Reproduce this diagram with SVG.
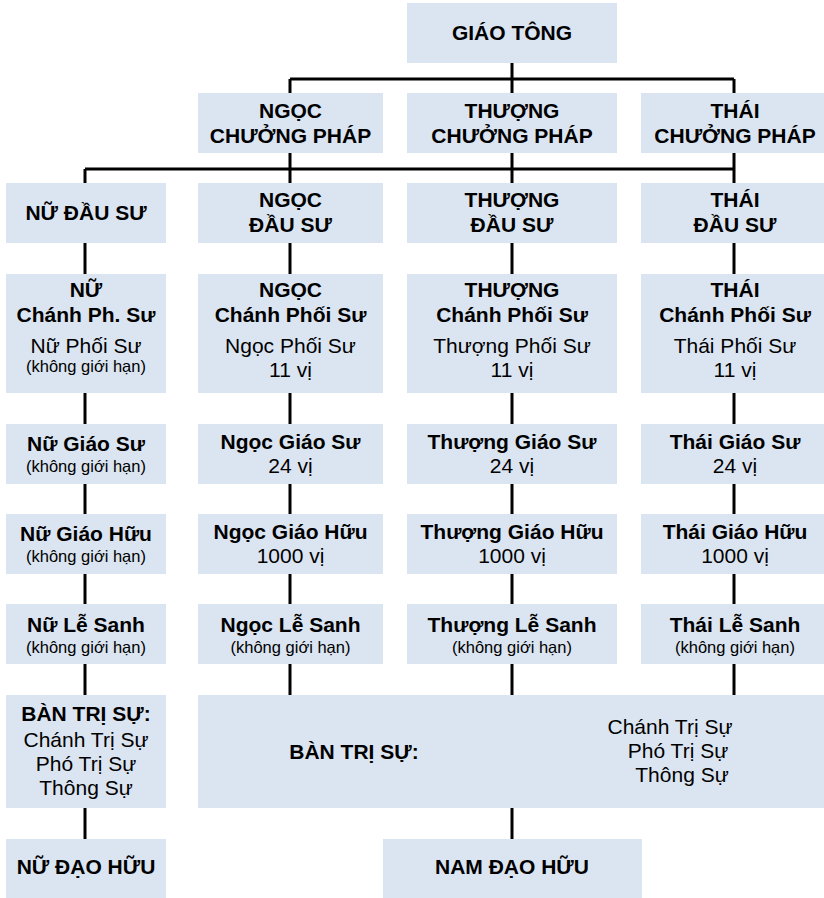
<svg xmlns="http://www.w3.org/2000/svg" width="824" height="898" viewBox="0 0 824 898">
<style>
.box{fill:#DBE5F1;}
.b{font-family:"Liberation Sans",Arial,sans-serif;font-weight:bold;font-size:21px;fill:#000;text-anchor:middle;}
.r{font-family:"Liberation Sans",Arial,sans-serif;font-size:21px;fill:#000;text-anchor:middle;}
.s{font-family:"Liberation Sans",Arial,sans-serif;font-size:16.5px;fill:#000;text-anchor:middle;}
.c{stroke:#000;stroke-width:3;fill:none;}
</style>
<rect width="824" height="898" fill="#fff"/>
<g id="connectors" class="c">
<path d="M512 63V93M290 79H734M290 79V93M734 79V93"/>
<path d="M85 169H734M85 169V183M290 153V183M512 153V183M734 153V183"/>
<path d="M85 243V274M290 243V274M512 243V274M734 243V274"/>
<path d="M85 393V424M290 393V424M512 393V424M734 393V424"/>
<path d="M85 484V514M290 484V514M512 484V514M734 484V514"/>
<path d="M85 574V604M290 574V604M512 574V604M734 574V604"/>
<path d="M85 664V695M290 664V695M512 664V695M734 664V695"/>
<path d="M85 808V839M512 808V839"/>
</g>
<g id="giao-tong"><rect class="box" x="407" y="3" width="210" height="60"/><text class="b" x="512" y="40">GIÁO TÔNG</text></g>
<g id="ngoc-chuong-phap"><rect class="box" x="198" y="93" width="185" height="60"/><text class="b" x="290.5" y="118">NGỌC</text><text class="b" x="290.5" y="143">CHƯỞNG PHÁP</text></g>
<g id="thuong-chuong-phap"><rect class="box" x="407" y="93" width="210" height="60"/><text class="b" x="512" y="118">THƯỢNG</text><text class="b" x="512" y="143">CHƯỞNG PHÁP</text></g>
<g id="thai-chuong-phap"><rect class="box" x="641" y="93" width="185" height="60"/><text class="b" x="735" y="118">THÁI</text><text class="b" x="735" y="143">CHƯỞNG PHÁP</text></g>

<g id="nu-dau-su"><rect class="box" x="6" y="183" width="160" height="60"/><text class="b" x="86" y="220">NỮ ĐẦU SƯ</text></g>
<g id="ngoc-dau-su"><rect class="box" x="198" y="183" width="185" height="60"/><text class="b" x="290.5" y="207">NGỌC</text><text class="b" x="290.5" y="232">ĐẦU SƯ</text></g>
<g id="thuong-dau-su"><rect class="box" x="407" y="183" width="210" height="60"/><text class="b" x="512" y="207">THƯỢNG</text><text class="b" x="512" y="232">ĐẦU SƯ</text></g>
<g id="thai-dau-su"><rect class="box" x="641" y="183" width="185" height="60"/><text class="b" x="735" y="207">THÁI</text><text class="b" x="735" y="232">ĐẦU SƯ</text></g>

<g id="nu-chanh-phoi-su"><rect class="box" x="6" y="274" width="160" height="119"/><text class="b" x="86" y="297">NỮ</text><text class="b" x="86" y="322">Chánh Ph. Sư</text><text class="r" x="86" y="353">Nữ Phối Sư</text><text class="s" x="86" y="372">(không giới hạn)</text></g>
<g id="ngoc-chanh-phoi-su"><rect class="box" x="198" y="274" width="185" height="119"/><text class="b" x="290.5" y="297">NGỌC</text><text class="b" x="290.5" y="322">Chánh Phối Sư</text><text class="r" x="290.5" y="353">Ngọc Phối Sư</text><text class="r" x="290.5" y="377">11 vị</text></g>
<g id="thuong-chanh-phoi-su"><rect class="box" x="407" y="274" width="210" height="119"/><text class="b" x="512" y="297">THƯỢNG</text><text class="b" x="512" y="322">Chánh Phối Sư</text><text class="r" x="512" y="353">Thượng Phối Sư</text><text class="r" x="512" y="377">11 vị</text></g>
<g id="thai-chanh-phoi-su"><rect class="box" x="641" y="274" width="185" height="119"/><text class="b" x="735" y="297">THÁI</text><text class="b" x="735" y="322">Chánh Phối Sư</text><text class="r" x="735" y="353">Thái Phối Sư</text><text class="r" x="735" y="377">11 vị</text></g>

<g id="nu-giao-su"><rect class="box" x="6" y="424" width="160" height="60"/><text class="b" x="86" y="451">Nữ Giáo Sư</text><text class="s" x="86" y="472">(không giới hạn)</text></g>
<g id="ngoc-giao-su"><rect class="box" x="198" y="424" width="185" height="60"/><text class="b" x="290.5" y="449">Ngọc Giáo Sư</text><text class="r" x="290.5" y="473">24 vị</text></g>
<g id="thuong-giao-su"><rect class="box" x="407" y="424" width="210" height="60"/><text class="b" x="512" y="449">Thượng Giáo Sư</text><text class="r" x="512" y="473">24 vị</text></g>
<g id="thai-giao-su"><rect class="box" x="641" y="424" width="185" height="60"/><text class="b" x="735" y="449">Thái Giáo Sư</text><text class="r" x="735" y="473">24 vị</text></g>

<g id="nu-giao-huu"><rect class="box" x="6" y="514" width="160" height="60"/><text class="b" x="86" y="541">Nữ Giáo Hữu</text><text class="s" x="86" y="562">(không giới hạn)</text></g>
<g id="ngoc-giao-huu"><rect class="box" x="198" y="514" width="185" height="60"/><text class="b" x="290.5" y="539">Ngọc Giáo Hữu</text><text class="r" x="290.5" y="563">1000 vị</text></g>
<g id="thuong-giao-huu"><rect class="box" x="407" y="514" width="210" height="60"/><text class="b" x="512" y="539">Thượng Giáo Hữu</text><text class="r" x="512" y="563">1000 vị</text></g>
<g id="thai-giao-huu"><rect class="box" x="641" y="514" width="185" height="60"/><text class="b" x="735" y="539">Thái Giáo Hữu</text><text class="r" x="735" y="563">1000 vị</text></g>

<g id="nu-le-sanh"><rect class="box" x="6" y="604" width="160" height="60"/><text class="b" x="86" y="632">Nữ Lễ Sanh</text><text class="s" x="86" y="653">(không giới hạn)</text></g>
<g id="ngoc-le-sanh"><rect class="box" x="198" y="604" width="185" height="60"/><text class="b" x="290.5" y="632">Ngọc Lễ Sanh</text><text class="s" x="290.5" y="653">(không giới hạn)</text></g>
<g id="thuong-le-sanh"><rect class="box" x="407" y="604" width="210" height="60"/><text class="b" x="512" y="632">Thượng Lễ Sanh</text><text class="s" x="512" y="653">(không giới hạn)</text></g>
<g id="thai-le-sanh"><rect class="box" x="641" y="604" width="185" height="60"/><text class="b" x="735" y="632">Thái Lễ Sanh</text><text class="s" x="735" y="653">(không giới hạn)</text></g>

<g id="nu-ban-tri-su"><rect class="box" x="6" y="695" width="160" height="113"/><text class="b" x="86" y="721">BÀN TRỊ SỰ:</text><text class="r" x="86" y="747">Chánh Trị Sự</text><text class="r" x="86" y="771">Phó Trị Sự</text><text class="r" x="86" y="795">Thông Sự</text></g>
<g id="nam-ban-tri-su"><rect class="box" x="198" y="695" width="628" height="113"/><text class="b" x="354" y="759">BÀN TRỊ SỰ:</text><text class="r" x="670" y="734">Chánh Trị Sự</text><text class="r" x="678" y="758">Phó Trị Sự</text><text class="r" x="682" y="782">Thông Sự</text></g>

<g id="nu-dao-huu"><rect class="box" x="6" y="839" width="160" height="59"/><text class="b" x="86" y="874">NỮ ĐẠO HỮU</text></g>
<g id="nam-dao-huu"><rect class="box" x="383" y="839" width="259" height="59"/><text class="b" x="512" y="874">NAM ĐẠO HỮU</text></g>
</svg>
